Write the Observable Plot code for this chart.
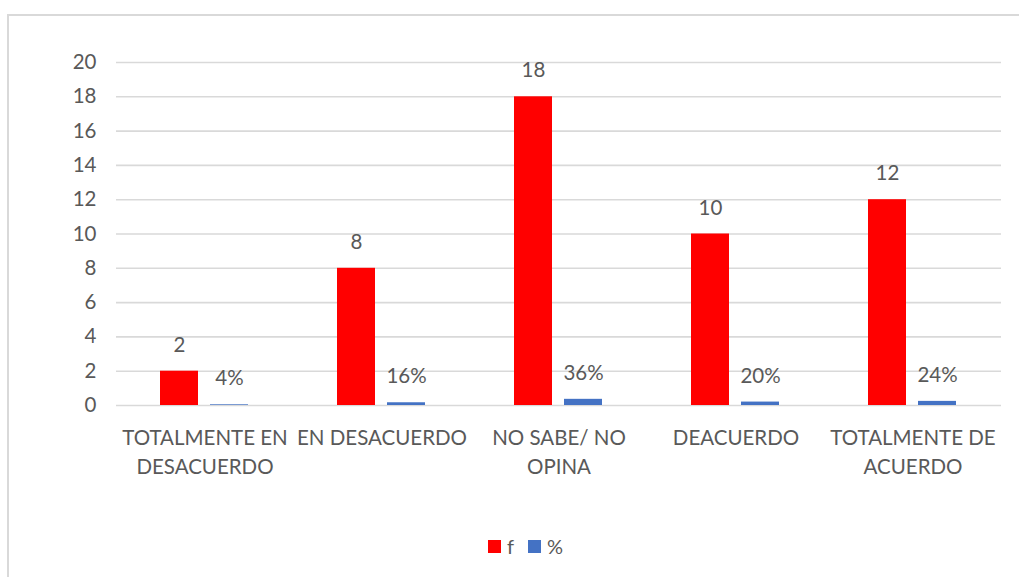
<!DOCTYPE html>
<html>
<head>
<meta charset="utf-8">
<script src="https://cdn.jsdelivr.net/npm/d3@7"></script>
<script src="https://cdn.jsdelivr.net/npm/@observablehq/plot@0.6"></script>
<style>
  html, body { margin: 0; padding: 0; background: #fff; }
  #wrap { position: relative; width: 1019px; height: 577px; overflow: hidden; font-family: Lato, "Open Sans", sans-serif; }
  #frame { position: absolute; left: 7px; top: 14px; width: 1030px; height: 600px; border: 2px solid #d9d9d9; box-sizing: border-box; }
  #chart { position: absolute; left: 0; top: 0; }
  #legend { position: absolute; left: 0; top: 532px; width: 1019px; height: 28px; display: flex; justify-content: center; align-items: center; font-size: 20px; color: #595959; padding-left: 32px; box-sizing: border-box; }
  .sw { display: inline-block; width: 13px; height: 13px; margin-right: 6px; }
  .item { display: inline-flex; align-items: center; margin: 0 7px; }
</style>
</head>
<body>
<div id="wrap">
  <div id="frame"></div>
  <div id="chart"></div>
  <div id="legend"></div>
</div>
<script>
const categories = ["TOTALMENTE EN DESACUERDO", "EN DESACUERDO", "NO SABE/ NO OPINA", "DEACUERDO", "TOTALMENTE DE ACUERDO"];
const categoryLabels = ["TOTALMENTE EN\nDESACUERDO", "EN DESACUERDO", "NO SABE/ NO\nOPINA", "DEACUERDO", "TOTALMENTE DE\nACUERDO"];
const series = ["f", "%"];
const fValues = [2, 8, 18, 10, 12];
const pctValues = [0.04, 0.16, 0.36, 0.20, 0.24];
const yTicks = [0, 2, 4, 6, 8, 10, 12, 14, 16, 18, 20];
const colors = ["#ff0000", "#4472c4"];

const data = [];
categories.forEach((c, i) => {
  data.push({cat: c, s: "f", v: fValues[i], label: String(fValues[i])});
  data.push({cat: c, s: "%", v: pctValues[i], label: Math.round(pctValues[i] * 100) + "%"});
});
const labelMap = new Map(categories.map((c, i) => [c, categoryLabels[i]]));

const chart = Plot.plot({
  width: 1019,
  height: 530,
  marginTop: 62,
  marginBottom: 125,
  marginLeft: 114,
  marginRight: 17,
  style: {fontFamily: "Lato, 'Open Sans', sans-serif", fontSize: "20px", color: "#595959", background: "transparent"},
  fx: {domain: categories, padding: 0, label: null},
  x: {domain: series, paddingInner: 0.235, paddingOuter: 0.86, axis: null},
  y: {domain: [0, 20], label: null},
  color: {domain: series, range: colors},
  marks: [
    Plot.ruleY(yTicks, {stroke: "#d9d9d9", strokeWidth: 1.6, strokeOpacity: 1}),
    Plot.barY(data, {fx: "cat", x: "s", y: "v", fill: "s"}),
    Plot.text(data, {fx: "cat", x: "s", y: "v", text: "label", dy: -26, fill: "#595959", fontSize: 20.5}),
    Plot.axisY({ticks: yTicks, tickSize: 0, tickPadding: 20, fontSize: 20.5, fill: "#595959", label: null}),
    Plot.axisFx({anchor: "bottom", tickSize: 0, tickPadding: 20, tickFormat: d => labelMap.get(d), lineHeight: 1.37, fontSize: 20.5, fill: "#595959", label: null})
  ]
});
document.getElementById("chart").appendChild(chart);

const legend = document.getElementById("legend");
series.forEach((s, i) => {
  const item = document.createElement("span");
  item.className = "item";
  const sw = document.createElement("span");
  sw.className = "sw";
  sw.style.background = colors[i];
  item.appendChild(sw);
  item.appendChild(document.createTextNode(s));
  legend.appendChild(item);
});
</script>
</body>
</html>
